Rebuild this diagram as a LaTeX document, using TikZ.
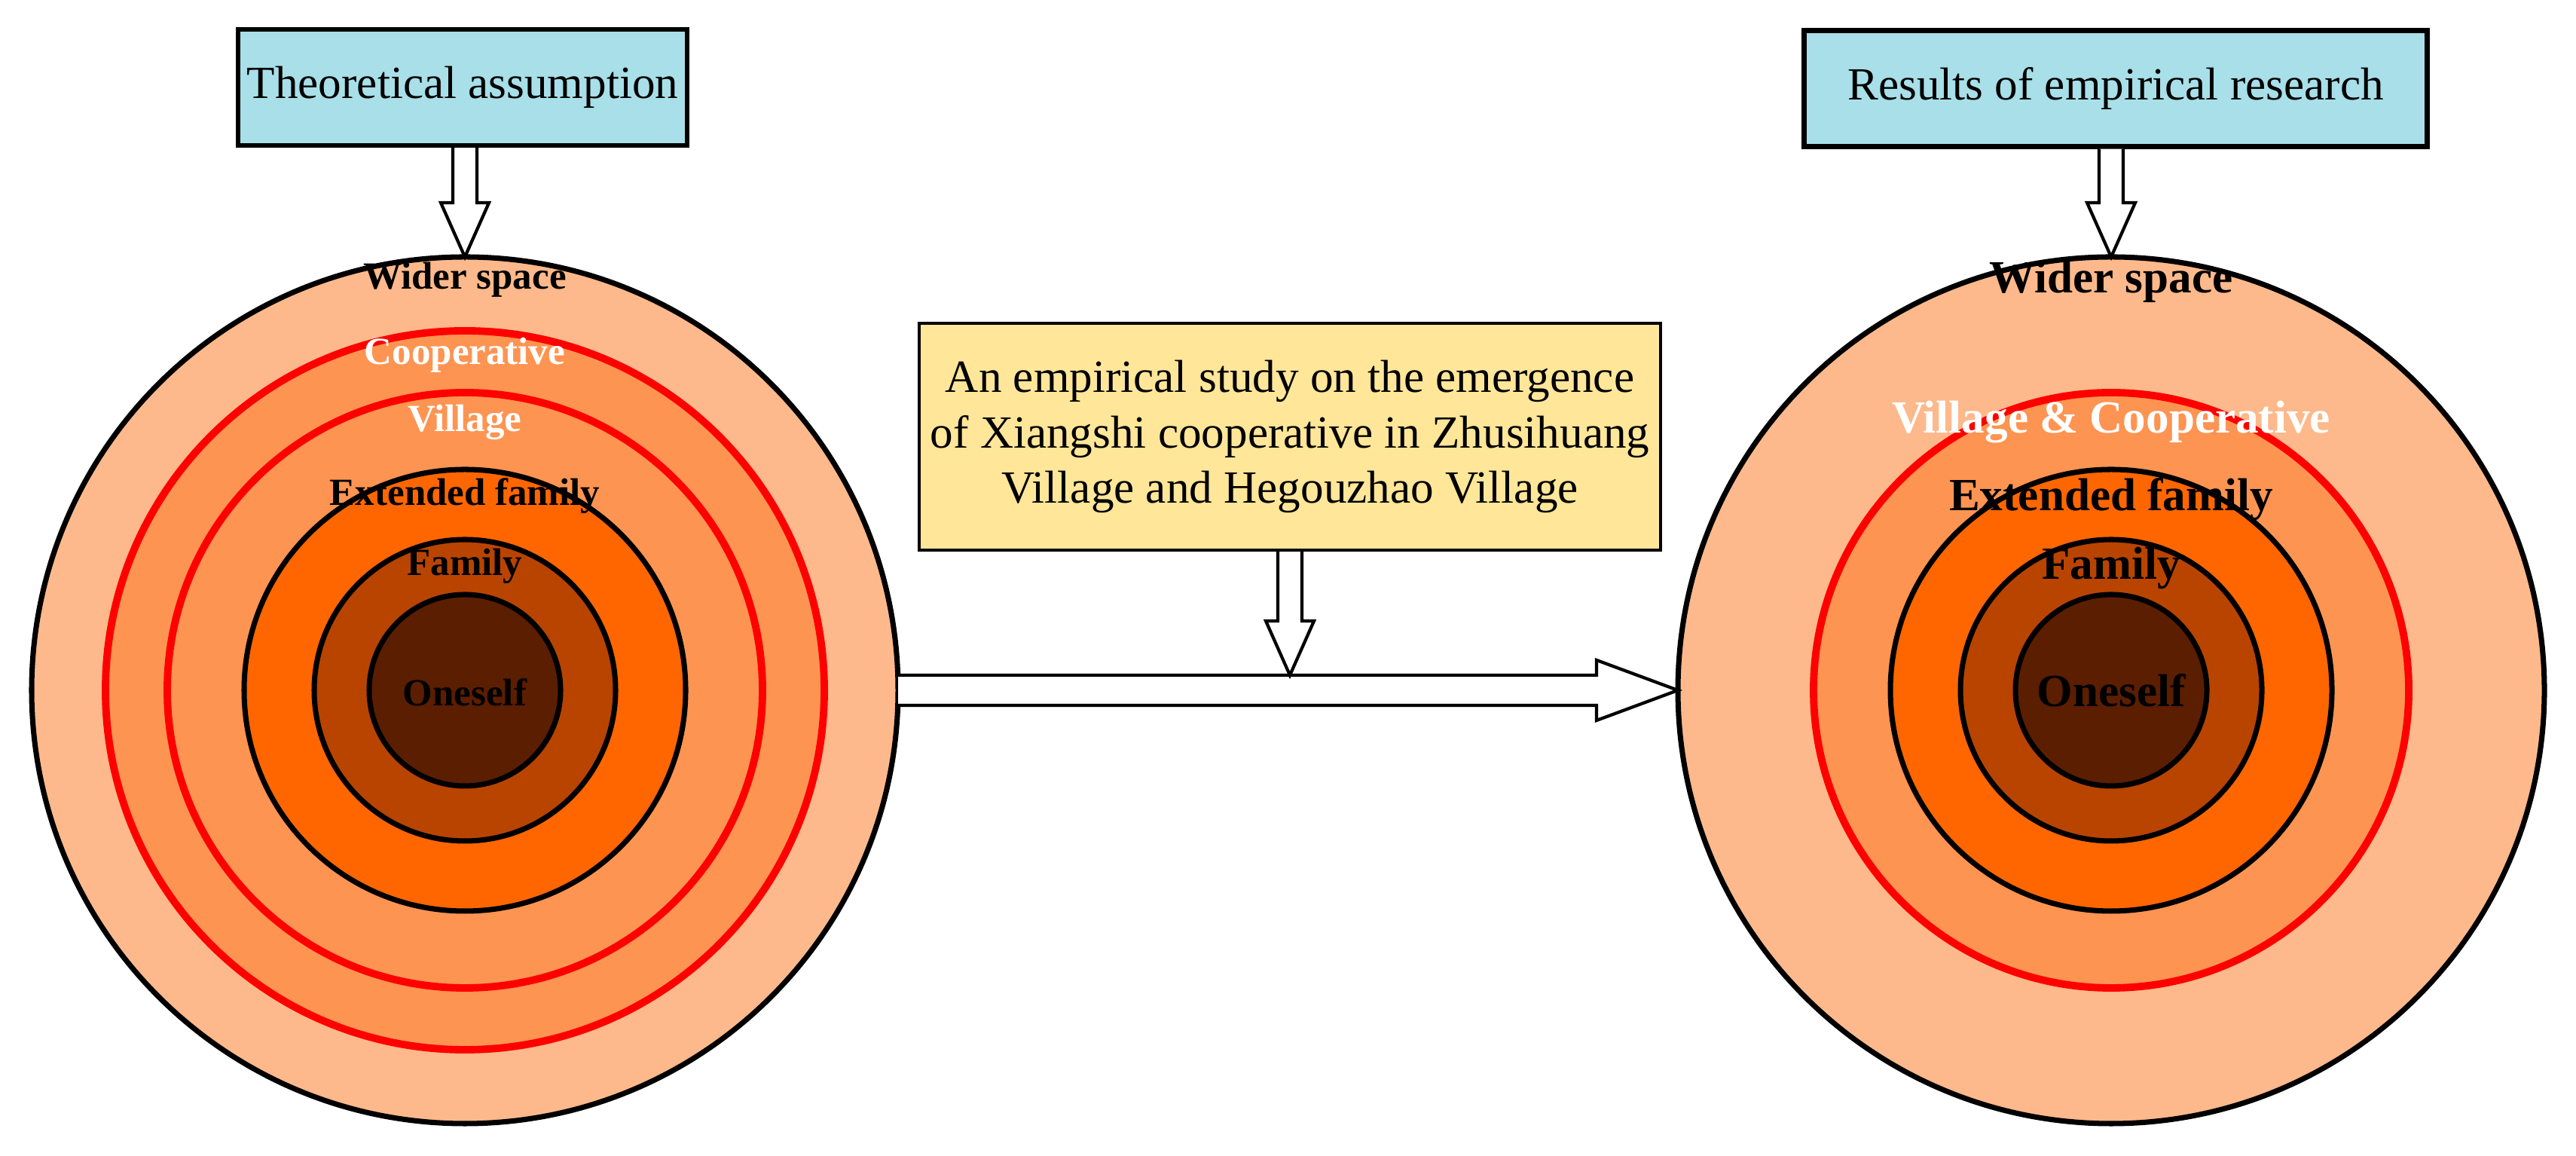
\documentclass[tikz,border=0pt]{standalone}
\usepackage{fontspec}
\setmainfont{Liberation Serif}
\usetikzlibrary{calc}
\definecolor{peach}   {HTML}{FDB98B}
\definecolor{band}    {HTML}{FE9452}
\definecolor{extfam}  {HTML}{FF6600}
\definecolor{fam}     {HTML}{B94400}
\definecolor{self}    {HTML}{5C1E00}
\definecolor{ringred} {HTML}{FF0000}
\definecolor{skyLt}   {HTML}{A8DFE8}
\definecolor{sandLt}  {HTML}{FFE699}

\begin{document}
\begin{tikzpicture}[
   blkring/.style={circle, inner sep=0pt, outer sep=0pt, draw=black, line width=2pt},
   redring/.style={blkring, draw=ringred, line width=2.8pt},
   topbox/.style={rectangle, draw=black, fill=skyLt, line width=1.8pt, inner sep=2pt,
                  minimum height=1.54cm, font=\fontsize{17.4}{21}\selectfont},
   studybox/.style={rectangle, draw=black, fill=sandLt, line width=1.2pt, align=center,
                    minimum width=9.84cm, minimum height=3.01cm,
                    font=\fontsize{17.4}{21}\selectfont},
   lbl/.style={inner sep=0pt, font=\fontsize{14.5}{17}\selectfont\bfseries},
   rlbl/.style={inner sep=0pt, font=\fontsize{17.4}{21}\selectfont\bfseries},
   hollow/.style={draw=black, fill=white, line width=1.2pt, line join=miter}
]
\useasboundingbox (0,0) rectangle (34.19,15.34);

% left rings
\foreach \nm/\r/\st/\fc in {lo/5.75/blkring/peach, lr1/4.77/redring/band, lr2/3.95/redring/band,
                            le/2.93/blkring/extfam, lf/2.00/blkring/fam, ls/1.27/blkring/self}{
  \node[\st, fill=\fc, minimum size=2*\r cm] (\nm) at (6.17,6.18) {};
}
% right rings
\foreach \nm/\r/\st/\fc in {ro/5.75/blkring/peach, rr/3.95/redring/band,
                            re/2.93/blkring/extfam, rf/2.00/blkring/fam, rs/1.27/blkring/self}{
  \node[\st, fill=\fc, minimum size=2*\r cm] (\nm) at (28.02,6.18) {};
}

% labels
\foreach \lab/\dy/\col [count=\i] in {Wider space/5.45/black, Cooperative/4.45/white,
                                     Village/3.56/white, Extended family/2.58/black,
                                     Family/1.65/black, Oneself/-0.03/black}{
  \node[lbl, text=\col] (ltxt\i) at ($(lo)+(0,\dy)$) {\lab};
}
\foreach \lab/\dy/\col [count=\i] in {Wider space/5.42/black, Village \& Cooperative/3.56/white,
                                     Extended family/2.53/black, Family/1.62/black,
                                     Oneself/0/black}{
  \node[rlbl, text=\col] (rtxt\i) at ($(ro)+(0,\dy)$) {\lab};
}

% boxes
\node[topbox, minimum width=5.96cm] (tb) at (6.14,14.18) {Theoretical assumption};
\node[topbox, minimum width=8.27cm] (rb) at (28.08,14.165) {Results of empirical research};
\node[studybox] (sb) at (17.12,9.545)
  {An empirical study on the emergence\\of Xiangshi cooperative in Zhusihuang\\Village and Hegouzhao Village};

% big arrow between the two circles
\draw[hollow] ($(lo.east)+(0,.2)$) -- ($(ro.west)+(-1.08,.2)$) -- ++(0,.2) -- (ro.west)
  -- ($(ro.west)+(-1.08,-.4)$) -- ++(0,.2) -- ($(lo.east)+(0,-.2)$);
\coordinate (hj) at ($(sb.south |- lo.east)+(0,.2)$);

% down arrows
\foreach \src/\dst in {tb.south/lo.north, rb.south/ro.north, sb.south/hj}{
  \draw[hollow] ($(\dst |- \src)+(-.16,0)$) -- ($(\dst)+(-.16,.72)$) -- ++(-.16,0) -- (\dst)
    -- ($(\dst)+(.32,.72)$) -- ++(-.16,0) -- ($(\dst |- \src)+(.16,0)$);
}
\end{tikzpicture}
\end{document}
